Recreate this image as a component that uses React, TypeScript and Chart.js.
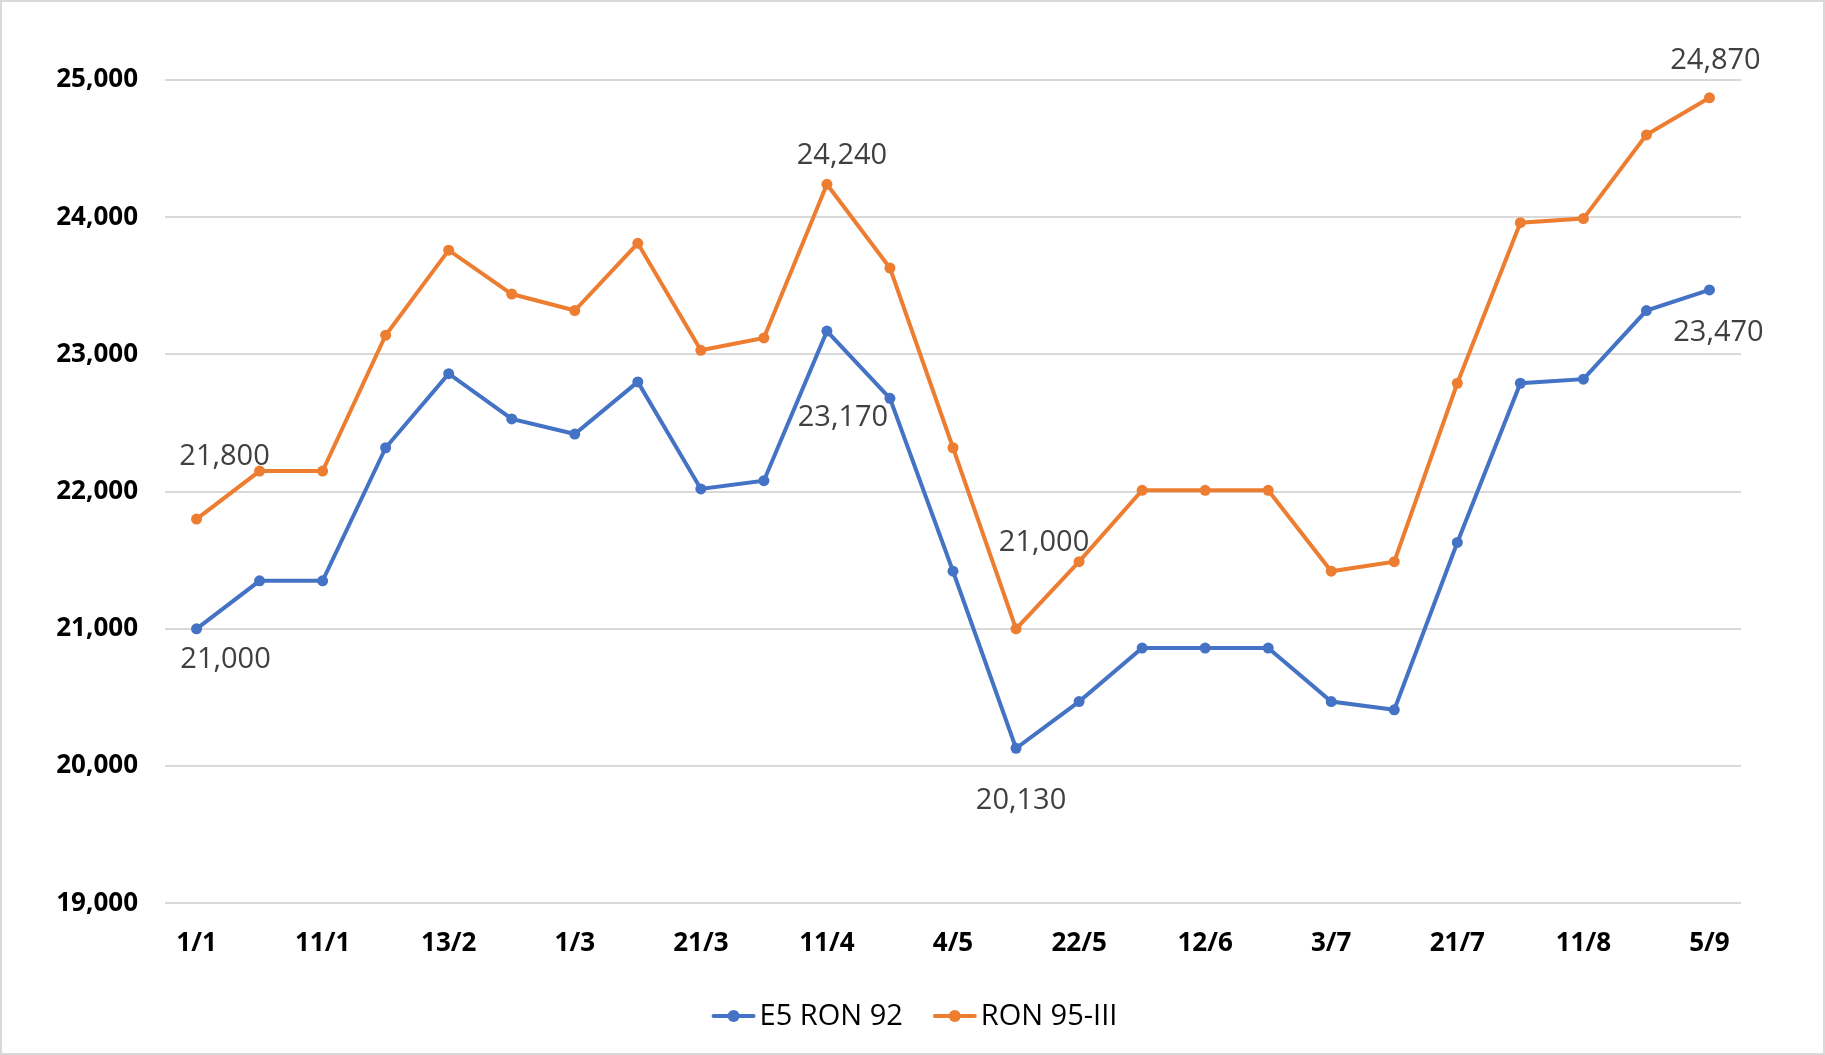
import React, { useEffect, useRef } from "react";
import { Chart, registerables } from "chart.js";

Chart.register(...registerables);

const dateLabels = [
  "1/1", "3/1", "11/1", "30/1", "13/2", "21/2", "1/3", "13/3", "21/3", "3/4",
  "11/4", "21/4", "4/5", "11/5", "22/5", "1/6", "12/6", "21/6", "3/7", "11/7",
  "21/7", "1/8", "11/8", "21/8", "5/9",
];

const e5Ron92 = [
  21000, 21350, 21350, 22320, 22860, 22530, 22420, 22800, 22020, 22080,
  23170, 22680, 21420, 20130, 20470, 20860, 20860, 20860, 20470, 20410,
  21630, 22790, 22820, 23320, 23470,
];

const ron95III = [
  21800, 22150, 22150, 23140, 23760, 23440, 23320, 23810, 23030, 23120,
  24240, 23630, 22320, 21000, 21490, 22010, 22010, 22010, 21420, 21490,
  22790, 23960, 23990, 24600, 24870,
];

const seriesNames = ["E5 RON 92", "RON 95-III"];
const yMin = 19000;
const yMax = 25000;
const yStep = 1000;

// which points carry a value label (dataset index, point index) and where it sits
const labelledPoints = [
  { ds: 0, i: 0, dx: 29, dy: 31 },
  { ds: 0, i: 10, dx: 16, dy: 87 },
  { ds: 0, i: 13, dx: 5, dy: 52 },
  { ds: 0, i: 24, dx: 9, dy: 43 },
  { ds: 1, i: 0, dx: 28, dy: -62 },
  { ds: 1, i: 10, dx: 15, dy: -29 },
  { ds: 1, i: 13, dx: 28, dy: -86 },
  { ds: 1, i: 24, dx: 6, dy: -37 },
];

const BLUE = "#4472C4";
const ORANGE = "#ED7D31";
const W = 1825;
const H = 1055;

const bgBorderPlugin = {
  id: "bgBorder",
  beforeDraw(chart: any) {
    const ctx = chart.ctx;
    ctx.save();
    ctx.fillStyle = "#ffffff";
    ctx.fillRect(0, 0, chart.width, chart.height);
    ctx.strokeStyle = "#d9d9d9";
    ctx.lineWidth = 2;
    ctx.strokeRect(1, 1, chart.width - 2, chart.height - 2);
    ctx.restore();
  },
};

const valueLabelPlugin = {
  id: "valueLabels",
  afterDatasetsDraw(chart: any) {
    const ctx = chart.ctx;
    ctx.save();
    ctx.font = "29px 'Open Sans'";
    ctx.fillStyle = "#404040";
    ctx.textAlign = "center";
    ctx.textBaseline = "middle";
    labelledPoints.forEach((p) => {
      const meta = chart.getDatasetMeta(p.ds);
      const el = meta.data[p.i];
      if (!el) return;
      const v = chart.data.datasets[p.ds].data[p.i] as number;
      ctx.fillText(v.toLocaleString("en-US"), el.x + p.dx, el.y + p.dy);
    });
    ctx.restore();
  },
};

const lineLegendPlugin = {
  id: "lineLegend",
  afterDraw(chart: any) {
    const ctx = chart.ctx;
    const markerW = 44;
    const textGap = 4;
    const itemGap = 30;
    const cy = 1016;
    ctx.save();
    ctx.font = "29px 'Open Sans'";
    ctx.textBaseline = "middle";
    ctx.textAlign = "left";
    const items = chart.data.datasets.map((d: any) => ({
      text: d.label as string,
      color: d.borderColor as string,
      w: ctx.measureText(d.label).width,
    }));
    const total =
      items.reduce((s: number, it: any) => s + markerW + textGap + it.w, 0) +
      itemGap * (items.length - 1);
    let x = chart.width / 2 - total / 2 + 2;
    items.forEach((it: any) => {
      ctx.strokeStyle = it.color;
      ctx.lineWidth = 4;
      ctx.lineCap = "round";
      ctx.beginPath();
      ctx.moveTo(x + 2, cy);
      ctx.lineTo(x + markerW - 2, cy);
      ctx.stroke();
      ctx.fillStyle = it.color;
      ctx.beginPath();
      ctx.arc(x + markerW / 2, cy, 6, 0, Math.PI * 2);
      ctx.fill();
      x += markerW + textGap;
      ctx.fillStyle = "#000000";
      ctx.fillText(it.text, x, cy + 1);
      x += it.w + itemGap;
    });
    ctx.restore();
  },
};

export default function App() {
  const ref = useRef<HTMLCanvasElement>(null);

  useEffect(() => {
    document.body.style.margin = "0";
    const canvas = ref.current!;
    const chart = new Chart(canvas, {
      type: "line",
      data: {
        labels: dateLabels,
        datasets: [
          {
            label: seriesNames[0],
            data: e5Ron92,
            borderColor: BLUE,
            backgroundColor: BLUE,
            borderWidth: 4,
            pointRadius: 5.5,
            pointBackgroundColor: BLUE,
            pointBorderWidth: 0,
            pointStyle: "circle",
            tension: 0,
          },
          {
            label: seriesNames[1],
            data: ron95III,
            borderColor: ORANGE,
            backgroundColor: ORANGE,
            borderWidth: 4,
            pointRadius: 5.5,
            pointBackgroundColor: ORANGE,
            pointBorderWidth: 0,
            pointStyle: "circle",
            tension: 0,
          },
        ],
      },
      options: {
        responsive: false,
        animation: false,
        devicePixelRatio: 1,
        layout: { padding: { top: 80, right: 84, bottom: 62, left: 0 } },
        plugins: {
          legend: { display: false },
          tooltip: { enabled: false },
        },
        scales: {
          x: {
            type: "category",
            offset: true,
            grid: { display: false, drawTicks: false },
            border: { display: false },
            ticks: {
              autoSkip: false,
              maxRotation: 0,
              padding: 25,
              color: "#000000",
              font: { family: "'Open Sans'", size: 26, weight: "bold" },
              callback: (_v: any, idx: number) => (idx % 2 === 0 ? dateLabels[idx] : ""),
            },
            afterFit: (scale: any) => {
              scale.height = H - 62 - 903.3;
            },
          },
          y: {
            min: yMin,
            max: yMax,
            grid: { color: "#d9d9d9", lineWidth: 2, drawTicks: false },
            border: { display: false },
            ticks: {
              stepSize: yStep,
              padding: 27,
              color: "#000000",
              font: { family: "'Open Sans'", size: 26, weight: "bold" },
              callback: (v: any) => Number(v).toLocaleString("en-US"),
            },
            afterFit: (scale: any) => {
              scale.width = 165;
            },
          },
        },
      },
      plugins: [bgBorderPlugin, valueLabelPlugin, lineLegendPlugin],
    });
    return () => chart.destroy();
  }, []);

  return (
    <div style={{ position: "absolute", left: 0, top: 0, width: W, height: H }}>
      <canvas ref={ref} width={W} height={H} style={{ display: "block" }} />
    </div>
  );
}
